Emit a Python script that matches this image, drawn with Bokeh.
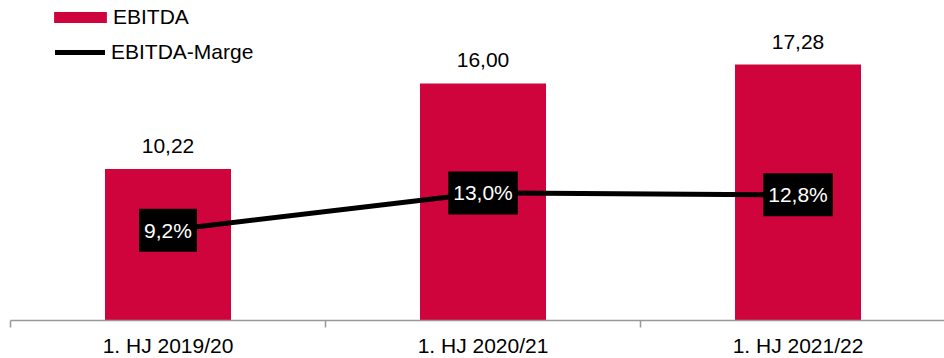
from bokeh.plotting import figure
from bokeh.models import (Range1d, LinearAxis, FixedTicker, ColumnDataSource,
                          LabelSet, Label, Legend, LegendItem)
from bokeh.core.properties import value
from bokeh.embed import file_html
from bokeh.resources import INLINE

# Half-year figures
periods = ["1. HJ 2019/20", "1. HJ 2020/21", "1. HJ 2021/22"]
ebitda = [10.22, 16.00, 17.28]      # EBITDA
margin = [9.2, 13.0, 12.8]          # EBITDA-Marge in %

FONT = "Liberation Sans"
RED = "#D0043C"
AXIS_GREY = "#999999"

xs = [i + 0.5 for i in range(len(periods))]


def de_num(v, digits):
    return f"{v:.{digits}f}".replace(".", ",")


src = ColumnDataSource(dict(
    x=xs,
    period=periods,
    ebitda=ebitda,
    ebitda_text=[de_num(v, 2) for v in ebitda],
    margin=margin,
))

p = figure(frame_width=934, frame_height=320,
           output_backend="svg", toolbar_location=None,
           x_range=Range1d(0, 2.965), y_range=Range1d(0, 21.6),
           x_axis_type=None, y_axis_type=None,
           min_border_left=10, min_border_right=0,
           min_border_top=0, min_border_bottom=0)
p.outline_line_color = None
p.background_fill_color = "white"
p.border_fill_color = "white"
p.extra_y_ranges = {"margin": Range1d(0, 32.6)}

# Bars
bars = p.vbar(x="x", top="ebitda", width=0.4, source=src,
              fill_color=RED, line_color=None)

# Margin line
line = p.line(x="x", y="margin", source=src, y_range_name="margin",
              line_color="black", line_width=5, line_cap="round")

# Bar value labels
p.add_layout(LabelSet(x="x", y="ebitda", text="ebitda_text", source=src,
                      text_align="center", text_baseline="middle", y_offset=23,
                      text_font=value(FONT), text_font_size="21px",
                      text_color="black"))

# Margin labels in black boxes
for xv, mv in zip(xs, margin):
    p.add_layout(Label(x=xv, y=mv, y_range_name="margin",
                       text=de_num(mv, 1) + "%",
                       text_align="center", text_baseline="middle",
                       text_font=FONT, text_font_size="21px",
                       text_color="white",
                       background_fill_color="black",
                       padding=(5, 10)))

# Category axis: labels at centres, minor ticks at category boundaries
xaxis = LinearAxis(
    ticker=FixedTicker(ticks=xs, minor_ticks=list(range(len(periods) + 1))),
    major_label_overrides={xv: lab for xv, lab in zip(xs, periods)},
    axis_line_color=AXIS_GREY, axis_line_width=1.5,
    major_tick_line_color=None, major_tick_out=0, major_tick_in=0,
    minor_tick_line_color=AXIS_GREY, minor_tick_line_width=1.5,
    minor_tick_out=7, minor_tick_in=0,
    major_label_standoff=6,
    major_label_text_font=FONT, major_label_text_font_size="21px",
    major_label_text_color="black",
)
p.add_layout(xaxis, "below")

legend_style = dict(padding=0, margin=0, spacing=0,
                    border_line_color=None, background_fill_alpha=0,
                    label_text_font=FONT, label_text_font_size="21px",
                    label_text_color="black")

# Legend anchors are measured from the lower left of the plot frame
p.add_layout(Legend(items=[LegendItem(label="EBITDA", renderers=[bars])],
                    location=(37, 291), glyph_width=66, glyph_height=14,
                    label_standoff=0, **legend_style), "center")
p.add_layout(Legend(items=[LegendItem(label="EBITDA-Marge", renderers=[line])],
                    location=(45, 256), glyph_width=50, glyph_height=14,
                    label_standoff=6, **legend_style), "center")

open("out.html", "w").write(file_html(p, INLINE))
